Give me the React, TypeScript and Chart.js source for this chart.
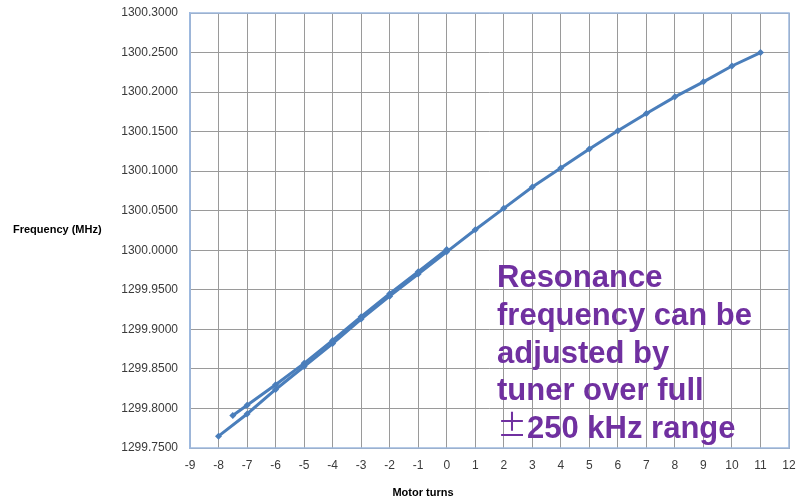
import React, { useEffect, useRef } from "react";
import { Chart, registerables } from "chart.js";

Chart.register(...registerables);

// Forward sweep (motor turns -8 .. 11)
const forwardTurns = [-8, -7, -6, -5, -4, -3, -2, -1, 0, 1, 2, 3, 4, 5, 6, 7, 8, 9, 10, 11];
const forwardFreq = [
  1299.765, 1299.793, 1299.824, 1299.853, 1299.882, 1299.913, 1299.942, 1299.970, 1299.998,
  1300.026, 1300.053, 1300.080, 1300.104, 1300.128, 1300.151, 1300.173, 1300.194, 1300.213,
  1300.233, 1300.250,
];
// Return sweep (0 .. -7.5)
const returnTurns = [0, -1, -2, -3, -4, -5, -6, -7, -7.5];
const returnFreq = [1300.001, 1299.973, 1299.945, 1299.916, 1299.886, 1299.857, 1299.830, 1299.804, 1299.791];

const yTitle = "Frequency (MHz)";
const xTitle = "Motor turns";
const noteLines = ["Resonance", "frequency can be", "adjusted by", "tuner over full", "±250 kHz range"];

const LINE_COLOR = "#4A7EBB";
const GRID_COLOR = "#9a9a9a";
const BORDER_COLOR = "#9DB9DF";
const FONT = "'Liberation Sans', Arial, sans-serif";

export default function App() {
  const ref = useRef<HTMLCanvasElement | null>(null);

  useEffect(() => {
    if (!ref.current) return;
    const overlay = {
      id: "overlay",
      afterDraw(chart: any) {
        const { ctx, chartArea } = chart;
        ctx.save();
        // plot border
        ctx.strokeStyle = BORDER_COLOR;
        ctx.lineWidth = 1.5;
        ctx.strokeRect(chartArea.left, chartArea.top, chartArea.right - chartArea.left, chartArea.bottom - chartArea.top);
        // axis titles
        ctx.fillStyle = "#000";
        ctx.font = `bold 11px ${FONT}`;
        ctx.textBaseline = "middle";
        ctx.textAlign = "left";
        ctx.fillText(yTitle, 13, 230);
        ctx.textAlign = "center";
        ctx.fillText(xTitle, 423, 493);
        // note text
        ctx.fillStyle = "#7030A0";
        ctx.textAlign = "left";
        ctx.textBaseline = "alphabetic";
        const x0 = 497;
        const base0 = 287;
        noteLines.forEach((line, i) => {
          const y = base0 + i * 37.75;
          if (line.startsWith("±")) {
            ctx.font = `30px 'Noto Sans CJK JP', ${FONT}`;
            ctx.fillText("±", x0, y - 2);
            const w = ctx.measureText("±").width;
            ctx.font = `bold 31px ${FONT}`;
            ctx.fillText(line.slice(1), x0 + w, y);
          } else {
            ctx.font = `bold 31px ${FONT}`;
            ctx.fillText(line, x0, y);
          }
        });
        ctx.restore();
      },
    };

    const ds = (turns: number[], freq: number[]) => ({
      data: turns.map((t, i) => ({ x: t, y: freq[i] })),
      showLine: true,
      borderColor: LINE_COLOR,
      backgroundColor: LINE_COLOR,
      borderWidth: 3,
      pointStyle: "rectRot",
      pointRadius: 3.5,
      pointBorderWidth: 0,
    });

    const chart = new Chart(ref.current, {
      type: "scatter",
      data: {
        datasets: [ds(forwardTurns, forwardFreq), ds(returnTurns, returnFreq)],
      },
      options: {
        animation: false,
        responsive: false,
        devicePixelRatio: 1,
        layout: { padding: { left: 0, top: 13, right: 16, bottom: 0 } },
        plugins: { legend: { display: false }, tooltip: { enabled: false } },
        scales: {
          x: {
            type: "linear",
            min: -9,
            max: 12,
            afterFit: (s: any) => {
              s.height = 51;
              s.paddingLeft = 0;
              s.paddingRight = 0;
            },
            ticks: {
              stepSize: 1,
              color: "#3a3a3a",
              font: { family: FONT, size: 12 },
              padding: 10,
              callback: (v: any) => String(v),
            },
            grid: { color: GRID_COLOR, lineWidth: 1, drawTicks: false },
            border: { color: GRID_COLOR, width: 1 },
          },
          y: {
            type: "linear",
            min: 1299.75,
            max: 1300.3,
            afterFit: (s: any) => {
              s.width = 190;
              s.paddingTop = 0;
              s.paddingBottom = 0;
            },
            ticks: {
              stepSize: 0.05,
              color: "#3a3a3a",
              font: { family: FONT, size: 12 },
              padding: 12,
              callback: (v: any) => Number(v).toFixed(4),
            },
            grid: { color: GRID_COLOR, lineWidth: 1, drawTicks: false },
            border: { color: BORDER_COLOR, width: 1.5 },
          },
        },
      },
      plugins: [overlay],
    });
    return () => chart.destroy();
  }, []);

  return (
    <div style={{ position: "absolute", left: 0, top: 0, width: 805, height: 499, background: "#fff" }}>
      <canvas ref={ref} width={805} height={499} style={{ width: 805, height: 499 }} />
    </div>
  );
}
